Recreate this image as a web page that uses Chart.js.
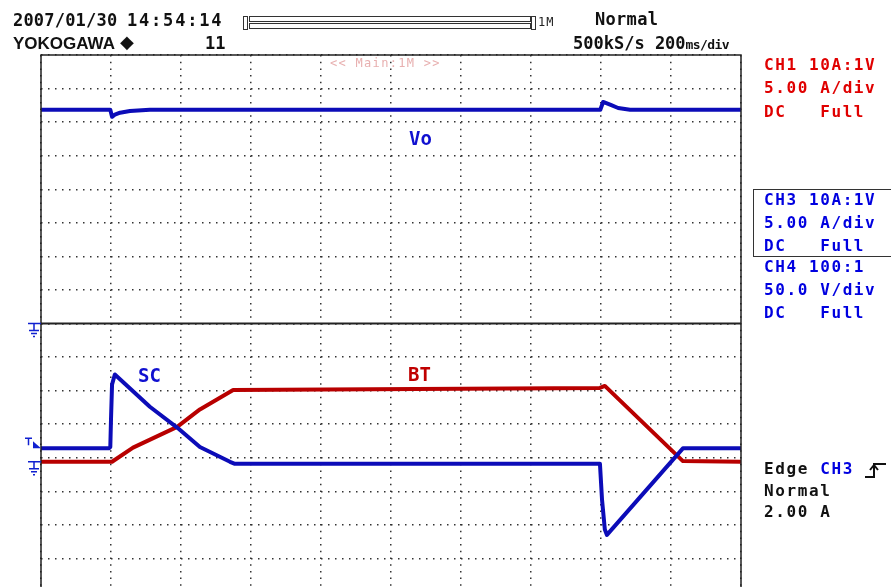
<!DOCTYPE html>
<html>
<head>
<meta charset="utf-8">
<script src="https://cdn.jsdelivr.net/npm/chart.js@4.4.0/dist/chart.umd.min.js"></script>
<style>
  html, body { margin: 0; padding: 0; background: #fff; }
  body { width: 891px; height: 587px; overflow: hidden; position: relative; }
  canvas { position: absolute; left: 0; top: 0; }
  .m { position: absolute; font-family: 'DejaVu Sans Mono', monospace; font-weight: bold; white-space: pre; }
  .h { font-size: 17px; line-height: 17px; color: #111; }
  .r { font-size: 16px; line-height: 16px; letter-spacing: 1.6px; }
  .red { color: #e00000; }
  .blue { color: #0000e0; }
  .blk { color: #111; }
  .lbl { font-size: 19px; line-height: 19px; }
  .box { position: absolute; border: 1.5px solid #333; }
</style>
</head>
<body>
<canvas id="scope" width="891" height="600"></canvas>

<!-- header -->
<div class="m h" style="left:13px; top:12px; letter-spacing:0.2px;">2007/01/30</div>
<div class="m h" style="left:127px; top:12px; letter-spacing:1.8px;">14:54:14</div>
<div style="position:absolute; left:13px; top:35px; font-family:'Liberation Sans',Arial,sans-serif; font-weight:bold; font-size:17px; line-height:17px; color:#111;">YOKOGAWA</div>
<div style="position:absolute; left:120px; top:33px; font-family:'DejaVu Sans',sans-serif; font-size:18px; line-height:18px; color:#111;">◆</div>
<div class="m h" style="left:205px; top:35px;">11</div>
<div class="box" style="left:243px; top:16px; width:3px; height:12px; border-width:1px;"></div>
<div class="box" style="left:249px; top:16px; width:280px; height:4px; border-width:1.5px;"></div>
<div class="box" style="left:249px; top:23px; width:280px; height:4px; border-width:1.5px;"></div>
<div class="box" style="left:531px; top:16px; width:3px; height:12px; border-width:1px;"></div>
<div class="m" style="left:538px; top:16px; font-size:12px; line-height:12px; font-weight:normal; letter-spacing:1px; color:#222;">1M</div>
<div class="m h" style="left:595px; top:11px; letter-spacing:0.3px;">Normal</div>
<div class="m h" style="left:573px; top:35px;">500kS/s 200<span style="font-size:13px; letter-spacing:-0.6px;">ms/div</span></div>
<div class="m" style="left:330px; top:57px; font-size:12px; line-height:12px; font-weight:normal; letter-spacing:1.3px; color:#e8b0b0;">&lt;&lt; Main:1M &gt;&gt;</div>

<!-- channel panel -->
<div class="m r red" style="left:764px; top:57px;">CH1 10A:1V</div>
<div class="m r red" style="left:764px; top:80px;">5.00 A/div</div>
<div class="m r red" style="left:764px; top:104px;">DC   Full</div>
<div class="box" style="left:753px; top:189px; width:150px; height:66px;"></div>
<div class="m r blue" style="left:764px; top:192px;">CH3 10A:1V</div>
<div class="m r blue" style="left:764px; top:215px;">5.00 A/div</div>
<div class="m r blue" style="left:764px; top:238px;">DC   Full</div>
<div class="m r blue" style="left:764px; top:259px;">CH4 100:1</div>
<div class="m r blue" style="left:764px; top:282px;">50.0 V/div</div>
<div class="m r blue" style="left:764px; top:305px;">DC   Full</div>
<div class="m r blk" style="left:764px; top:461px;">Edge <span class="blue">CH3</span></div>
<svg style="position:absolute; left:864px; top:461px;" width="24" height="18">
  <path d="M1 16 H10 V3 H22" fill="none" stroke="#111" stroke-width="2"/>
  <path d="M6 9 L10 4 L14 9" fill="none" stroke="#111" stroke-width="2"/>
</svg>
<div class="m r blk" style="left:764px; top:483px;">Normal</div>
<div class="m r blk" style="left:764px; top:504px;">2.00 A</div>

<!-- trace labels -->
<div class="m lbl" style="left:409px; top:129px; color:#1010d0;">Vo</div>
<div class="m lbl" style="left:138px; top:366px; color:#1010d0;">SC</div>
<div class="m lbl" style="left:408px; top:365px; color:#c00000;">BT</div>

<script>
// time axis: 200 ms/div, 10 divisions
const timeTicks = [0, 200, 400, 600, 800, 1000, 1200, 1400, 1600, 1800, 2000];

// CH4 Vo (V), 50 V/div, ground at bottom of upper zone
const voTime = [0, 198, 203, 211, 226, 254, 311, 1598, 1606, 1626, 1649, 1683, 2000];
const voVolts = [318.5, 318.5, 308, 311, 314, 316.5, 318.5, 318.5, 330, 326, 321, 318.5, 318.5];
const voGrid = [0, 50, 100, 150, 200, 250, 300, 350, 400];

// CH3 SC current (A), 5 A/div
const scTime = [0, 194, 198, 200, 203, 211, 311, 389, 454, 540, 554, 1597, 1603, 1611, 1617, 1834, 2000];
const scAmps = [2.0, 2.0, 2.2, 6.3, 11.5, 13.0, 8.2, 5.1, 2.2, 0.0, -0.3, -0.3, -5.7, -10.1, -10.9, 2.0, 2.0];

// CH1 BT current (A), 5 A/div
const btTime = [0, 203, 263, 389, 454, 549, 1597, 1611, 1834, 2000];
const btAmps = [0, 0, 2.1, 5.2, 7.8, 10.7, 11.0, 11.3, 0.1, 0.0];

// lower zone grid lines (A), ground sits a little under the 5th line
const ampGrid = [20.6, 15.6, 10.6, 5.6, 0.6, -4.4, -9.4, -14.4, -19.4];
const trigLevel = 2.0;

const traceBlue = '#0c0cb8';
const traceRed = '#b80000';
const markBlue = '#1020d0';

function pts(xs, ys) {
  return xs.map((x, i) => ({x: x, y: ys[i]}));
}

const dots = '#333';

const scopeDecor = {
  id: 'scopeDecor',
  afterDatasetsDraw(chart) {
    const {ctx, chartArea: a, scales} = chart;
    ctx.save();
    ctx.strokeStyle = '#222';
    ctx.lineWidth = 1.5;
    ctx.strokeRect(a.left, a.top, a.right - a.left, a.bottom - a.top);
    const yd = scales.yVo.getPixelForValue(0);
    ctx.lineWidth = 2;
    ctx.beginPath();
    ctx.moveTo(a.left, yd);
    ctx.lineTo(a.right, yd);
    ctx.stroke();

    // ground markers
    ctx.strokeStyle = markBlue;
    ctx.lineWidth = 1.5;
    const ground = (y) => {
      const x = a.left;
      ctx.beginPath();
      ctx.moveTo(x - 13, y); ctx.lineTo(x, y);
      ctx.moveTo(x - 7, y); ctx.lineTo(x - 7, y + 7);
      ctx.moveTo(x - 12, y + 7); ctx.lineTo(x - 2, y + 7);
      ctx.moveTo(x - 10, y + 10); ctx.lineTo(x - 4, y + 10);
      ctx.moveTo(x - 8, y + 13); ctx.lineTo(x - 6, y + 13);
      ctx.stroke();
    };
    ground(scales.yVo.getPixelForValue(0));
    ground(scales.yI.getPixelForValue(0));

    // trigger level marker
    const ty = scales.yI.getPixelForValue(trigLevel);
    const x = a.left;
    ctx.beginPath();
    ctx.moveTo(x - 16, ty - 10); ctx.lineTo(x - 9, ty - 10);
    ctx.moveTo(x - 12.5, ty - 10); ctx.lineTo(x - 12.5, ty - 3);
    ctx.stroke();
    ctx.fillStyle = markBlue;
    ctx.beginPath();
    ctx.moveTo(x - 8, ty - 7);
    ctx.lineTo(x, ty);
    ctx.lineTo(x - 8, ty);
    ctx.closePath();
    ctx.fill();
    ctx.restore();
  }
};

const gridOpts = {color: dots, lineWidth: 1.5, drawTicks: false};

new Chart(document.getElementById('scope').getContext('2d'), {
  type: 'line',
  data: {
    datasets: [
      {label: 'Vo', data: pts(voTime, voVolts), yAxisID: 'yVo', borderColor: traceBlue, borderWidth: 4},
      {label: 'SC', data: pts(scTime, scAmps), yAxisID: 'yI', borderColor: traceBlue, borderWidth: 4},
      {label: 'BT', data: pts(btTime, btAmps), yAxisID: 'yI', borderColor: traceRed, borderWidth: 4}
    ]
  },
  options: {
    responsive: false,
    animation: false,
    events: [],
    elements: {point: {radius: 0}, line: {tension: 0, borderJoinStyle: 'round'}},
    layout: {padding: {left: 41, top: 55, right: 150, bottom: 8}},
    plugins: {legend: {display: false}, tooltip: {enabled: false}},
    scales: {
      x: {
        type: 'linear', min: 0, max: 2000,
        afterBuildTicks: s => { s.ticks = timeTicks.map(v => ({value: v})); },
        ticks: {display: false},
        grid: gridOpts,
        border: {display: false, dash: [1.5, 5.2]}
      },
      // lower zone listed first so the Vo zone stacks on top
      yI: {
        type: 'linear', position: 'left', stack: 'scope', stackWeight: 1,
        min: -19.4, max: 20.6,
        afterBuildTicks: s => { s.ticks = ampGrid.map(v => ({value: v})); },
        ticks: {display: false},
        grid: gridOpts,
        border: {display: false, dash: [1.5, 5.5]}
      },
      yVo: {
        type: 'linear', position: 'left', stack: 'scope', stackWeight: 1,
        min: 0, max: 400,
        afterBuildTicks: s => { s.ticks = voGrid.map(v => ({value: v})); },
        ticks: {display: false},
        grid: gridOpts,
        border: {display: false, dash: [1.5, 5.5]}
      }
    }
  },
  plugins: [scopeDecor]
});
</script>
</body>
</html>
